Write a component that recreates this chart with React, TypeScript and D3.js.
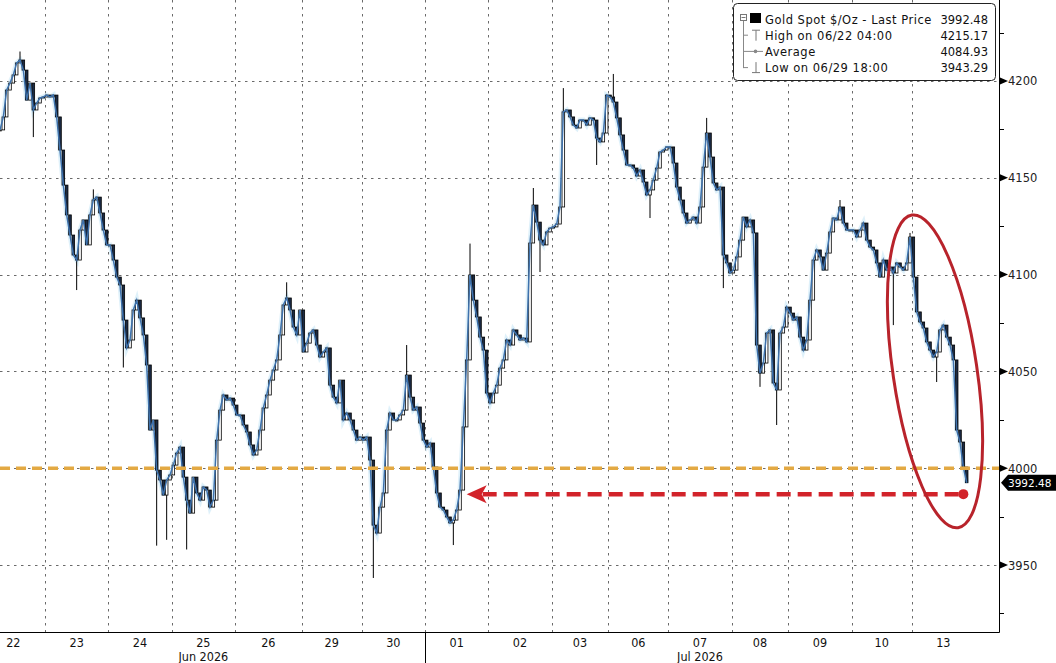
import { useEffect, useRef } from "react";
import * as d3 from "d3";

// hourly-ish closes (uniform bar spacing)
const closes = [
  4174.7, 4181.4, 4195.3, 4198.9, 4203.1, 4209.3, 4210.8, 4205.6, 4190.1, 4198.9,
  4185.0, 4188.6, 4191.2, 4191.7, 4192.7, 4191.7, 4192.7, 4181.4, 4164.3, 4146.2,
  4130.8, 4120.4, 4110.1, 4107.5, 4123.0, 4128.2, 4115.3, 4130.8, 4138.5, 4140.0,
  4131.8, 4123.0, 4115.3, 4115.3, 4107.5, 4098.7, 4094.6, 4076.5, 4062.1, 4066.2,
  4081.7, 4086.8, 4077.6, 4068.8, 4053.3, 4019.7, 4024.9, 3999.0, 3993.9, 3986.1,
  3993.9, 3996.5, 4001.6, 4007.8, 4010.9, 3995.4, 3983.5, 3976.8, 3995.4, 3987.2,
  3983.5, 3990.3, 3988.7, 3979.9, 3983.5, 4014.5, 4030.0, 4037.8, 4035.2, 4036.2,
  4032.6, 4027.5, 4027.5, 4022.3, 4018.7, 4012.0, 4006.8, 4009.4, 4019.7, 4031.1,
  4037.8, 4045.5, 4050.7, 4055.9, 4068.8, 4084.3, 4087.9, 4081.7, 4072.9, 4068.8,
  4081.7, 4060.0, 4064.6, 4069.8, 4071.4, 4063.6, 4057.4, 4060.0, 4062.1, 4042.9,
  4036.7, 4033.7, 4045.5, 4024.9, 4028.5, 4024.9, 4019.7, 4014.5, 4016.1, 4014.5,
  4016.1, 4004.2, 3970.6, 3966.5, 3979.9, 3987.2, 4019.7, 4028.5, 4024.9, 4024.9,
  4027.5, 4030.0, 4048.1, 4036.7, 4030.0, 4031.6, 4023.3, 4014.5, 4010.9, 4013.0,
  4000.6, 3987.2, 3979.9, 3978.4, 3974.8, 3971.7, 3973.2, 3978.4, 3988.7, 4021.3,
  4055.9, 4099.8, 4086.8, 4078.1, 4067.7, 4061.0, 4038.8, 4033.7, 4038.8, 4042.9,
  4051.7, 4055.9, 4066.2, 4063.6, 4071.4, 4068.8, 4066.2, 4067.2, 4065.2, 4116.3,
  4135.9, 4127.1, 4117.8, 4115.3, 4122.0, 4124.0, 4124.6, 4126.1, 4134.9, 4184.0,
  4185.0, 4181.4, 4177.2, 4175.7, 4179.8, 4179.8, 4177.2, 4180.9, 4179.8, 4170.5,
  4168.5, 4173.1, 4192.7, 4191.7, 4189.1, 4180.9, 4172.1, 4164.3, 4156.6, 4156.6,
  4155.0, 4150.9, 4154.0, 4147.8, 4141.1, 4143.7, 4148.8, 4155.0, 4163.3, 4164.3,
  4165.9, 4165.9, 4157.6, 4145.2, 4138.5, 4131.8, 4126.6, 4128.2, 4129.7, 4126.6,
  4134.9, 4155.5, 4173.1, 4160.7, 4147.3, 4143.7, 4145.2, 4110.1, 4106.0, 4100.8,
  4102.3, 4109.1, 4117.8, 4129.7, 4124.6, 4128.2, 4121.5, 4063.6, 4049.1, 4054.3,
  4069.8, 4071.4, 4044.0, 4040.4, 4069.8, 4072.9, 4083.2, 4080.1, 4076.5, 4078.1,
  4067.7, 4061.0, 4066.2, 4086.8, 4107.5, 4112.7, 4109.1, 4102.3, 4111.1, 4122.0,
  4129.2, 4128.2, 4134.9, 4126.6, 4123.0, 4123.0, 4123.0, 4119.4, 4123.0, 4126.6,
  4117.8, 4114.2, 4112.7, 4106.0, 4098.7, 4107.5, 4102.3, 4103.9, 4100.8, 4106.0,
  4103.9, 4102.3, 4106.0, 4119.4, 4098.7, 4080.7, 4075.5, 4072.4, 4065.2, 4061.0,
  4057.4, 4060.0, 4071.4, 4073.9, 4067.7, 4063.6, 4055.9, 4019.7, 4013.5, 4000.6,
  3992.48,
];

// notable wick extremes [bar index, price]
const wickHighs = [
  [6, 4215.2], [28, 4144], [86, 4096], [122, 4063.6], [141, 4116], [160, 4144.7],
  [169, 4196.3], [184, 4203.6], [212, 4180.9], [252, 4138.5], [273, 4121.5],
];
const wickLows = [
  [10, 4171], [23, 4092], [37, 4052], [47, 3960], [50, 3963], [56, 3958],
  [112, 3943.3], [136, 3960.3], [162, 4101.3], [179, 4156.6], [195, 4129.2],
  [217, 4093], [228, 4042], [233, 4022.3], [268, 4073.9], [281, 4044.5],
];

const dayLabels = ["22", "23", "24", "25", "26", "29", "30", "01", "02", "03", "06", "07", "08", "09", "10", "13"];
// session breaks, in bar index units
const dayBreaks = [13.5, 32.5, 51.5, 70.5, 90.5, 108.5, 127.5, 146.5, 165.5, 182.5, 200.5, 219.5, 236.5, 255.5, 273.5];
const firstDayStart = -5.5;
const lastDayEnd = 292.5;
const monthLabels = ["Jun 2026", "Jul 2026"];
const monthBreakDay = 7; // Jul starts at day index 7

const yTicks = [3950, 4000, 4050, 4100, 4150, 4200];
const yMinorTicks = [3925, 3975, 4025, 4075, 4125, 4175, 4225];

const legendLabels = ["Gold Spot $/Oz - Last Price", "High on 06/22 04:00", "Average", "Low on 06/29 18:00"];
const legendValues = ["3992.48", "4215.17", "4084.93", "3943.29"];

const lastPrice = 3992.48;
const supportLevel = 4000;
const arrowLevel = 3986.6;
const arrowFromBar = 140;
const arrowToBar = 289;
const ellipseBar = 280.5;
const ellipsePrice = 4050;

const W = 1056;
const H = 663;

const GoldChart = () => {
  const svgRef = useRef(null);

  useEffect(() => {
    if (!svgRef.current) return;
    const svg = d3.select(svgRef.current);
    svg.selectAll("*").remove();

    const plotRight = 999;
    const plotBottom = 632;

    const x = d3.scaleLinear().domain([0, 299.7]).range([0, plotRight]);
    const y = d3.scaleLinear().domain([3915.4, 4241.8]).range([plotBottom, 0]);

    svg.append("rect").attr("width", W).attr("height", H).attr("fill", "#fff");

    const font = "DejaVu Sans, Verdana, sans-serif";
    const narrow = "DejaVu Sans Condensed, DejaVu Sans, sans-serif";

    // horizontal grid
    svg
      .append("g")
      .selectAll("line")
      .data(yTicks)
      .join("line")
      .attr("x1", 0)
      .attr("x2", plotRight)
      .attr("y1", (d) => Math.round(y(d)) + 0.5)
      .attr("y2", (d) => Math.round(y(d)) + 0.5)
      .attr("stroke", "#6a6a6a")
      .attr("stroke-dasharray", "2.5,4.5");

    // vertical grid at session breaks
    svg
      .append("g")
      .selectAll("line")
      .data(dayBreaks)
      .join("line")
      .attr("x1", (d) => Math.round(x(d)) + 0.5)
      .attr("x2", (d) => Math.round(x(d)) + 0.5)
      .attr("y1", 0)
      .attr("y2", plotBottom)
      .attr("stroke", "#6a6a6a")
      .attr("stroke-dasharray", "2.5,4.5");

    // candles
    const highMap = new Map(wickHighs.map((d) => [d[0], d[1]]));
    const lowMap = new Map(wickLows.map((d) => [d[0], d[1]]));
    const bars = closes.map((c, i) => {
      const o = i > 0 ? closes[i - 1] : c;
      const hi = Math.max(o, c, highMap.get(i) ?? -Infinity);
      const lo = Math.min(o, c, lowMap.get(i) ?? Infinity);
      return { i, o, c, hi, lo };
    });

    const line = d3
      .line<number>()
      .x((_, i) => x(i))
      .y((d) => y(d));
    // soft halo under the candles
    svg
      .append("path")
      .datum(closes)
      .attr("d", line)
      .attr("fill", "none")
      .attr("stroke", "#bfe4f5")
      .attr("stroke-opacity", 0.5)
      .attr("stroke-width", 5);

    const candles = svg.append("g");
    candles
      .selectAll("line")
      .data(bars)
      .join("line")
      .attr("x1", (d) => x(d.i))
      .attr("x2", (d) => x(d.i))
      .attr("y1", (d) => y(d.hi))
      .attr("y2", (d) => y(d.lo))
      .attr("stroke", "#000")
      .attr("stroke-width", 1);
    candles
      .selectAll("rect")
      .data(bars)
      .join("rect")
      .attr("x", (d) => x(d.i) - 1.3)
      .attr("width", 2.6)
      .attr("y", (d) => y(Math.max(d.o, d.c)))
      .attr("height", (d) => Math.max(1, y(Math.min(d.o, d.c)) - y(Math.max(d.o, d.c))))
      .attr("fill", (d) => (d.c >= d.o ? "#fff" : "#1b2b45"))
      .attr("stroke", "#000")
      .attr("stroke-width", 0.8);

    svg
      .append("path")
      .datum(closes)
      .attr("d", line)
      .attr("fill", "none")
      .attr("stroke", "#3e72ad")
      .attr("stroke-width", 1.5);

    // 4000 level
    svg
      .append("line")
      .attr("x1", 0)
      .attr("x2", plotRight)
      .attr("y1", y(supportLevel))
      .attr("y2", y(supportLevel))
      .attr("stroke", "#e3a943")
      .attr("stroke-width", 3.5)
      .attr("stroke-dasharray", "10,6");

    // red arrow back to the 07/01 low
    const ay = y(arrowLevel);
    const ax0 = x(arrowFromBar);
    const ax1 = x(arrowToBar);
    svg
      .append("line")
      .attr("x1", ax0 + 16)
      .attr("x2", ax1)
      .attr("y1", ay)
      .attr("y2", ay)
      .attr("stroke", "#d2232a")
      .attr("stroke-width", 4.5)
      .attr("stroke-dasharray", "14,7");
    svg
      .append("path")
      .attr("d", `M${ax0},${ay} L${ax0 + 20},${ay - 9} L${ax0 + 15},${ay} L${ax0 + 20},${ay + 9} Z`)
      .attr("fill", "#d2232a");
    svg.append("circle").attr("cx", ax1).attr("cy", ay).attr("r", 5).attr("fill", "#d2232a");

    // ellipse around the last drop
    svg
      .append("ellipse")
      .attr("cx", 0)
      .attr("cy", 0)
      .attr("rx", 42)
      .attr("ry", 158)
      .attr("transform", `translate(${x(ellipseBar)},${y(ellipsePrice)}) rotate(-8.4)`)
      .attr("fill", "none")
      .attr("stroke", "#b8232b")
      .attr("stroke-width", 3);

    // axes frame
    svg
      .append("line")
      .attr("x1", plotRight + 0.5)
      .attr("x2", plotRight + 0.5)
      .attr("y1", 0)
      .attr("y2", plotBottom + 0.5)
      .attr("stroke", "#000");
    svg
      .append("line")
      .attr("x1", 0)
      .attr("x2", plotRight + 0.5)
      .attr("y1", plotBottom + 0.5)
      .attr("y2", plotBottom + 0.5)
      .attr("stroke", "#000");

    // right axis ticks and labels
    const yAxis = svg.append("g");
    yAxis
      .selectAll("path")
      .data(yTicks)
      .join("path")
      .attr("d", (d) => `M${plotRight + 1},${y(d) - 3.5} L${plotRight + 1},${y(d) + 3.5} L${plotRight + 9},${y(d)} Z`)
      .attr("fill", "#000");
    yAxis
      .selectAll("line")
      .data(yMinorTicks)
      .join("line")
      .attr("x1", plotRight)
      .attr("x2", plotRight + 5)
      .attr("y1", (d) => Math.round(y(d)) + 0.5)
      .attr("y2", (d) => Math.round(y(d)) + 0.5)
      .attr("stroke", "#000");
    yAxis
      .selectAll("text")
      .data(yTicks)
      .join("text")
      .attr("x", plotRight + 9)
      .attr("y", (d) => y(d) + 4.5)
      .text((d) => d)
      .style("font-family", font)
      .style("font-size", "11.5px")
      .attr("fill", "#222");

    // last price tag
    const ly = y(lastPrice);
    svg
      .append("path")
      .attr("d", `M${plotRight + 2},${ly} L${plotRight + 9},${ly - 8} L${W},${ly - 8} L${W},${ly + 8} L${plotRight + 9},${ly + 8} Z`)
      .attr("fill", "#000");
    svg
      .append("text")
      .attr("x", plotRight + 9)
      .attr("y", ly + 4)
      .text(lastPrice.toFixed(2))
      .style("font-family", font)
      .style("font-size", "10.5px")
      .attr("fill", "#fff");

    // bottom axis: day labels
    const dayStarts = [firstDayStart, ...dayBreaks];
    const dayEnds = [...dayBreaks, lastDayEnd];
    svg
      .append("g")
      .selectAll("text")
      .data(dayLabels)
      .join("text")
      .attr("x", (_, i) => x((dayStarts[i] + dayEnds[i]) / 2))
      .attr("y", 647)
      .attr("text-anchor", "middle")
      .text((d) => d)
      .style("font-family", narrow)
      .style("font-size", "12.5px")
      .attr("fill", "#111");

    // month separator + month labels
    const sep = Math.round(x(dayStarts[monthBreakDay])) + 0.5;
    svg
      .append("line")
      .attr("x1", sep)
      .attr("x2", sep)
      .attr("y1", plotBottom)
      .attr("y2", H)
      .attr("stroke", "#000");
    const monthSpans = [
      [firstDayStart, dayStarts[monthBreakDay]],
      [dayStarts[monthBreakDay], lastDayEnd],
    ];
    svg
      .append("g")
      .selectAll("text")
      .data(monthLabels)
      .join("text")
      .attr("x", (_, i) => x((monthSpans[i][0] + monthSpans[i][1]) / 2))
      .attr("y", 661)
      .attr("text-anchor", "middle")
      .text((d) => d)
      .style("font-family", narrow)
      .style("font-size", "12.5px")
      .attr("fill", "#111");

    // legend
    const lg = svg.append("g");
    lg.append("rect")
      .attr("x", 733.5)
      .attr("y", 3.5)
      .attr("width", 262)
      .attr("height", 77)
      .attr("rx", 4)
      .attr("fill", "#fff")
      .attr("stroke", "#222");
    const rowY = (i) => 23.5 + i * 16.2;
    // tree connector
    lg.append("rect").attr("x", 740.5).attr("y", 14.5).attr("width", 6).attr("height", 6).attr("fill", "#fff").attr("stroke", "#777");
    lg.append("line").attr("x1", 741.5).attr("x2", 745.5).attr("y1", 17.5).attr("y2", 17.5).attr("stroke", "#777");
    lg.append("line").attr("x1", 743.5).attr("x2", 743.5).attr("y1", 21).attr("y2", rowY(3) - 4).attr("stroke", "#888");
    [1, 2, 3].forEach((i) => {
      lg.append("line").attr("x1", 743.5).attr("x2", 748).attr("y1", rowY(i) - 4.5).attr("y2", rowY(i) - 4.5).attr("stroke", "#888");
    });
    lg.append("rect").attr("x", 750).attr("y", 13).attr("width", 11).attr("height", 10).attr("fill", "#000");
    // high icon
    lg.append("line").attr("x1", 752).attr("x2", 760).attr("y1", rowY(1) - 9.5).attr("y2", rowY(1) - 9.5).attr("stroke", "#777");
    lg.append("line").attr("x1", 756).attr("x2", 756).attr("y1", rowY(1) - 9.5).attr("y2", rowY(1) + 1).attr("stroke", "#777");
    // average icon
    lg.append("line").attr("x1", 748).attr("x2", 763).attr("y1", rowY(2) - 4.5).attr("y2", rowY(2) - 4.5).attr("stroke", "#888");
    lg.append("circle").attr("cx", 755.5).attr("cy", rowY(2) - 4.5).attr("r", 1.8).attr("fill", "#888");
    // low icon
    lg.append("line").attr("x1", 752).attr("x2", 760).attr("y1", rowY(3) + 0.5).attr("y2", rowY(3) + 0.5).attr("stroke", "#777");
    lg.append("line").attr("x1", 756).attr("x2", 756).attr("y1", rowY(3) - 10).attr("y2", rowY(3) + 0.5).attr("stroke", "#777");

    lg.selectAll("text.lab")
      .data(legendLabels)
      .join("text")
      .attr("class", "lab")
      .attr("x", 765)
      .attr("y", (_, i) => rowY(i))
      .text((d) => d)
      .style("font-family", font)
      .style("font-size", "11.5px")
      .style("letter-spacing", "0.5px")
      .attr("fill", "#111");
    lg.selectAll("text.val")
      .data(legendValues)
      .join("text")
      .attr("class", "val")
      .attr("x", 988)
      .attr("y", (_, i) => rowY(i))
      .attr("text-anchor", "end")
      .text((d) => d)
      .style("font-family", font)
      .style("font-size", "11.5px")
      .attr("fill", "#111");
  }, []);

  return (
    <svg
      ref={svgRef}
      width={W}
      height={H}
      style={{ position: "absolute", left: 0, top: 0, display: "block" }}
    ></svg>
  );
};

export default function App() {
  return <GoldChart />;
}
